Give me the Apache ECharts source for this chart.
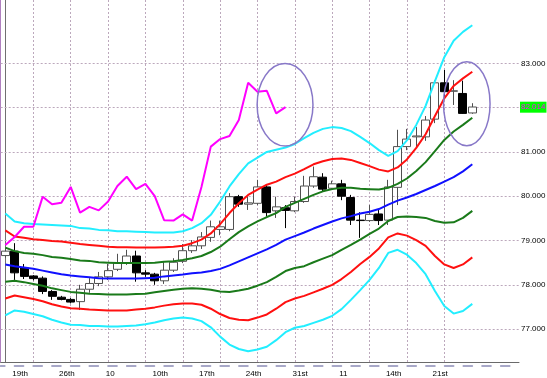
<!DOCTYPE html>
<html>
<head>
<meta charset="utf-8">
<script src="https://cdn.jsdelivr.net/npm/echarts@6/dist/echarts.min.js"></script>
<style>
  html, body { margin: 0; padding: 0; background: #fff; }
  #chart { width: 547px; height: 378px; }
</style>
</head>
<body>
<div id="chart"></div>
<script>
// daily candles
const opens  = [78.66,78.76,78.38,78.20,78.15,77.85,77.72,77.67,77.62,77.90,78.03,78.18,78.35,78.49,78.65,78.27,78.24,78.09,78.33,78.53,78.77,78.88,79.07,79.25,79.25,79.99,79.82,79.84,80.21,79.67,79.74,79.67,79.88,80.23,80.43,80.18,80.28,79.97,79.46,79.45,79.60,79.46,80.20,81.12,81.34,81.34,81.74,82.56,82.37,82.32,81.88];
const closes = [78.76,78.27,78.19,78.14,77.85,77.74,77.67,77.61,77.90,78.03,78.18,78.32,78.49,78.65,78.27,78.24,78.09,78.33,78.51,78.77,78.88,79.08,79.31,79.31,79.99,79.82,79.85,80.21,79.63,79.76,79.68,79.88,80.23,80.44,80.16,80.28,80.00,79.46,79.45,79.59,79.45,80.21,81.12,81.29,81.36,81.72,82.56,82.36,82.38,81.87,82.014];
const lows   = [78.61,78.11,78.13,78.10,77.79,77.66,77.65,77.58,77.43,77.82,77.97,78.11,78.31,78.45,78.07,78.18,78.00,78.02,78.29,78.49,78.72,78.81,78.97,79.12,79.21,79.76,79.69,79.80,79.54,79.51,79.28,79.64,79.85,80.19,80.10,80.14,79.91,79.35,79.06,79.42,79.35,79.35,79.80,81.04,81.11,81.25,81.65,82.24,82.06,81.86,81.86];
const highs  = [78.83,78.94,78.47,78.22,78.19,77.88,77.75,77.70,78.00,78.15,78.29,78.47,78.70,78.79,78.77,78.33,78.27,78.51,78.60,78.92,79.01,79.19,79.45,79.45,80.07,80.03,79.99,80.37,80.25,79.99,79.80,79.99,80.46,80.67,80.52,80.35,80.37,80.03,79.64,79.80,79.69,80.37,81.50,81.52,81.56,81.81,82.62,82.85,82.62,82.61,82.10];

// lagging span (magenta)
const lagging = [78.90,79.08,79.31,79.31,79.99,79.82,79.85,80.21,79.63,79.76,79.68,79.88,80.23,80.44,80.16,80.28,80.00,79.46,79.45,79.59,79.45,80.21,81.12,81.29,81.36,81.72,82.56,82.36,82.38,81.87,82.01];

// bands
const bandUp3 = [79.61,79.43,79.39,79.37,79.36,79.35,79.34,79.33,79.28,79.27,79.24,79.23,79.21,79.21,79.20,79.19,79.18,79.18,79.18,79.21,79.28,79.39,79.58,79.88,80.22,80.50,80.74,80.87,81.00,81.05,81.10,81.18,81.31,81.43,81.52,81.56,81.54,81.47,81.34,81.20,81.04,80.91,81.02,81.26,81.61,82.04,82.60,83.14,83.51,83.71,83.86];
const bandUp2 = [79.23,79.09,79.06,79.03,79.01,78.99,78.98,78.95,78.92,78.90,78.88,78.86,78.85,78.85,78.84,78.84,78.84,78.85,78.86,78.88,78.94,79.02,79.16,79.37,79.62,79.84,80.03,80.15,80.26,80.33,80.43,80.51,80.61,80.72,80.79,80.84,80.85,80.82,80.75,80.68,80.60,80.56,80.65,80.83,81.09,81.40,81.81,82.21,82.49,82.66,82.81];
const bandUp1 = [78.84,78.76,78.72,78.70,78.67,78.63,78.61,78.58,78.55,78.54,78.51,78.50,78.49,78.49,78.49,78.49,78.50,78.52,78.53,78.56,78.60,78.65,78.74,78.86,79.03,79.19,79.32,79.43,79.53,79.62,79.76,79.85,79.94,80.03,80.11,80.16,80.19,80.19,80.17,80.16,80.15,80.19,80.28,80.40,80.57,80.77,81.02,81.27,81.46,81.61,81.77];
const bandMid = [78.46,78.42,78.39,78.36,78.32,78.28,78.24,78.21,78.19,78.17,78.15,78.14,78.14,78.14,78.14,78.15,78.16,78.19,78.21,78.23,78.26,78.28,78.31,78.36,78.44,78.53,78.62,78.71,78.80,78.90,79.02,79.10,79.18,79.27,79.35,79.43,79.50,79.55,79.61,79.65,79.71,79.81,79.90,79.97,80.05,80.14,80.23,80.33,80.43,80.56,80.72];
const bandDn1 = [78.07,78.09,78.06,78.02,77.98,77.92,77.88,77.84,77.82,77.80,77.79,77.78,77.78,77.78,77.79,77.80,77.83,77.86,77.89,77.91,77.92,77.91,77.89,77.85,77.84,77.87,77.91,77.98,78.06,78.18,78.31,78.38,78.42,78.51,78.59,78.67,78.79,78.90,79.02,79.15,79.27,79.44,79.53,79.54,79.53,79.51,79.44,79.40,79.41,79.51,79.67];
const bandDn2 = [77.69,77.76,77.72,77.68,77.63,77.56,77.51,77.47,77.46,77.44,77.43,77.42,77.42,77.42,77.44,77.46,77.49,77.53,77.56,77.58,77.58,77.55,77.46,77.34,77.25,77.21,77.20,77.26,77.33,77.46,77.61,77.69,77.75,77.83,77.91,78.00,78.13,78.29,78.47,78.63,78.82,79.07,79.16,79.11,79.01,78.88,78.65,78.46,78.38,78.46,78.62];
const bandDn3 = [77.31,77.42,77.39,77.34,77.29,77.21,77.15,77.10,77.09,77.07,77.07,77.06,77.06,77.07,77.08,77.11,77.15,77.20,77.24,77.26,77.24,77.18,77.04,76.83,76.65,76.55,76.50,76.54,76.60,76.75,76.93,77.03,77.07,77.14,77.21,77.30,77.45,77.66,77.88,78.11,78.38,78.72,78.79,78.68,78.49,78.24,77.86,77.52,77.35,77.41,77.57];

// axes
const yTicks = [77, 78, 79, 80, 81, 82, 83];
const xLabelAt = [1, 6, 11, 16, 21, 26, 31, 36, 41, 46];
const xLabelText = ['19th', '26th', '10', '10th', '17th', '24th', '31st', '11', '14th', '21st'];
const xGridAt = [3, 7, 11, 15, 19, 23, 27, 31, 35, 39, 43, 47];
const lastPrice = 82.014;

// ellipses: centre day, centre price, radius in days, radius in price
const ellipses = [
    [29.95, 82.066, 2.99, 0.93],
    [49.41, 82.088, 2.49, 0.95]
];

const FONT = "'Liberation Sans Narrow', 'Liberation Sans', sans-serif";
const days = opens.map((_, i) => i);
const pairs = arr => arr.map((v, i) => [i, v]);

// half-step category axis only for the date labels
const halfCats = [];
for (let j = 0; j < 111; j++) {
    const at = xLabelAt.indexOf(j / 2);
    halfCats.push(at >= 0 ? xLabelText[at] : '');
}

const gridLines = [];
yTicks.forEach(v => {
    gridLines.push({
        yAxis: v,
        label: { show: v !== 82, formatter: v.toFixed(3) }
    });
});
xGridAt.forEach(k => gridLines.push({ xAxis: k, label: { show: false } }));

function bandLine(name, data, color) {
    return {
        name: name,
        type: 'line',
        data: pairs(data),
        showSymbol: false,
        symbol: 'none',
        z: 3,
        lineStyle: { color: color, width: 2 },
        itemStyle: { color: color }
    };
}

const chart = echarts.init(document.getElementById('chart'));

const option = {
    animation: false,
    backgroundColor: '#ffffff',
    grid: { left: 0, right: 28, top: 0, bottom: 16, containLabel: false },
    xAxis: [
        {
            type: 'value',
            min: -0.5,
            max: 55,
            position: 'bottom',
            offset: 3.5,
            axisLine: {
                show: true,
                lineStyle: { color: '#a8a8c8', width: 2, type: [8.7, 10], dashOffset: 4.7 }
            },
            axisTick: { show: false },
            axisLabel: { show: false },
            splitLine: { show: false }
        },
        {
            type: 'category',
            data: halfCats,
            position: 'bottom',
            boundaryGap: true,
            axisLine: { show: true, lineStyle: { color: '#6a6a6a', width: 1 } },
            axisTick: { show: false },
            axisLabel: {
                interval: 0,
                align: 'left',
                margin: 8,
                fontSize: 8,
                fontFamily: FONT,
                color: '#000000'
            },
            splitLine: { show: false }
        }
    ],
    yAxis: [
        {
            type: 'value',
            position: 'right',
            min: 76.257,
            max: 84.43,
            axisLine: { show: true, lineStyle: { color: '#707070' } },
            axisTick: { show: false },
            axisLabel: { show: false },
            splitLine: { show: false }
        },
        {
            type: 'value',
            position: 'left',
            min: 76.257,
            max: 84.43,
            axisLine: { show: true, lineStyle: { color: '#b080c0' } },
            axisTick: { show: false },
            axisLabel: { show: false },
            splitLine: { show: false }
        }
    ],
    series: [
        {
            type: 'candlestick',
            xAxisIndex: 0,
            yAxisIndex: 0,
            barWidth: 8.5,
            z: 2,
            data: days.map(i => [i, opens[i], closes[i], lows[i], highs[i]]),
            itemStyle: {
                color: '#ffffff',
                color0: '#000000',
                borderColor: '#505050',
                borderColor0: '#000000',
                borderWidth: 1
            },
            markLine: {
                silent: true,
                z: 1,
                symbol: ['none', 'none'],
                lineStyle: { color: '#bca8bc', type: [2, 2], width: 1 },
                label: {
                    position: 'end',
                    distance: 2,
                    fontSize: 8,
                    fontFamily: FONT,
                    color: '#000000'
                },
                data: gridLines
            }
        },
        bandLine('up3', bandUp3, '#22eeff'),
        bandLine('up2', bandUp2, '#ff1010'),
        bandLine('up1', bandUp1, '#1a7a1a'),
        bandLine('mid', bandMid, '#1010ff'),
        bandLine('dn1', bandDn1, '#1a7a1a'),
        bandLine('dn2', bandDn2, '#ff1010'),
        bandLine('dn3', bandDn3, '#22eeff'),
        {
            name: 'lagging',
            type: 'line',
            data: pairs(lagging),
            showSymbol: false,
            symbol: 'none',
            z: 4,
            lineStyle: { color: '#ff00ff', width: 2 },
            markLine: {
                silent: true,
                symbol: ['none', 'none'],
                lineStyle: { color: 'rgba(0,0,0,0)', width: 0 },
                label: {
                    show: true,
                    position: 'end',
                    distance: 1,
                    formatter: lastPrice.toFixed(3),
                    fontSize: 8,
                    fontFamily: FONT,
                    color: '#ff00ff',
                    backgroundColor: '#00ff00',
                    padding: [2, 1, 1, 1]
                },
                data: [{ yAxis: lastPrice }]
            }
        },
        {
            type: 'custom',
            z: 5,
            data: ellipses,
            encode: { x: 0, y: 1 },
            renderItem: function (params, api) {
                const c = api.coord([api.value(0), api.value(1)]);
                const s = api.size([api.value(2), api.value(3)]);
                return {
                    type: 'ellipse',
                    shape: { cx: c[0], cy: c[1], rx: s[0], ry: s[1] },
                    style: { fill: 'none', stroke: '#8878c8', lineWidth: 1.5 }
                };
            }
        }
    ]
};

chart.setOption(option);
</script>
</body>
</html>
